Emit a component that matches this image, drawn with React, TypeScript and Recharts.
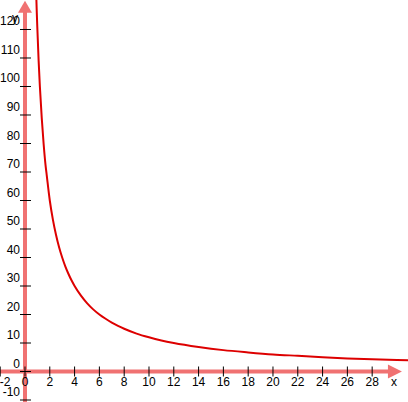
import { LineChart, Line, XAxis, YAxis, ReferenceLine, ReferenceDot } from "recharts";

// values
const xs = [0.88, 0.95, 1, 1.1, 1.2, 1.35, 1.5, 1.65, 1.75, 2, 2.25, 2.5, 2.75, 3, 3.25, 3.5, 3.75, 4, 4.5, 5, 5.5, 6, 6.5, 7, 7.5, 8, 9, 10, 11, 12, 14, 16, 18, 20, 22, 24, 26, 28, 30, 31];
const ys = [136, 126, 120, 109, 100, 89, 80, 72.7, 69, 60, 53.3, 48, 43.6, 40, 36.9, 34.3, 32, 30, 26.7, 24, 21.8, 20, 18.5, 17.15, 16, 15, 13.3, 12, 10.9, 10, 8.6, 7.5, 6.7, 6, 5.5, 5, 4.6, 4.3, 4, 3.9];

const xTicks = [-2, 0, 2, 4, 6, 8, 10, 12, 14, 16, 18, 20, 22, 24, 26, 28];
const yTicks = [-10, 0, 10, 20, 30, 40, 50, 60, 70, 80, 90, 100, 110, 120];

const xDomain = [-2.016, 30.89];
const yDomain = [-10.7, 130.35];

const AXIS = "#f07272";
const CURVE = "#dd0000";
const FONT = "'Liberation Sans', Arial, sans-serif";

const data = xs.map((x, i) => ({ x, y: ys[i] }));

const XTick = (props: any) => {
  const { cx, cy, label } = props;
  return (
    <g>
      <line x1={cx} x2={cx} y1={cy - 5} y2={cy + 5} stroke="#000" strokeWidth={1} />
      {/* keep the leftmost label from falling off the edge */}
      <text x={Math.max(cx, 5)} y={cy + 14} textAnchor="middle" fontSize={12} fontFamily={FONT} fill="#000">
        {label}
      </text>
    </g>
  );
};

const YTick = (props: any) => {
  const { cx, cy, label } = props;
  return (
    <g>
      <line x1={cx - 5} x2={cx + 6} y1={cy} y2={cy} stroke="#000" strokeWidth={1} />
      <text x={cx - 5} y={cy - 4} textAnchor="end" fontSize={12} fontFamily={FONT} fill="#000">
        {label}
      </text>
    </g>
  );
};

const XArrow = (props: any) => {
  const { cx, cy } = props;
  return (
    <g>
      <polygon points={`${cx},${cy} ${cx - 14},${cy - 7} ${cx - 14},${cy + 7}`} fill={AXIS} />
      <text x={cx - 8} y={cy + 14} textAnchor="middle" fontSize={12} fontFamily={FONT} fill="#000">x</text>
    </g>
  );
};

const YArrow = (props: any) => {
  const { cx, cy } = props;
  return (
    <g>
      <polygon points={`${cx},${cy} ${cx - 7},${cy + 12} ${cx + 7},${cy + 12}`} fill={AXIS} />
      <text x={cx - 10} y={cy + 21} textAnchor="middle" fontSize={12} fontFamily={FONT} fill="#000">y</text>
    </g>
  );
};

export default function App() {
  return (
    <div style={{ position: "absolute", left: 0, top: 0, width: 408, height: 402, background: "#fff" }}>
      <LineChart width={408} height={402} data={data} margin={{ top: 0, right: 0, bottom: 0, left: 0 }}>
        <XAxis dataKey="x" type="number" domain={xDomain} allowDataOverflow hide />
        <YAxis type="number" domain={yDomain} allowDataOverflow hide />
        {xTicks.map((t) => (
          <ReferenceDot key={`xt${t}`} x={t} y={0} ifOverflow="visible" shape={(p: any) => <XTick {...p} label={t} />} />
        ))}
        {yTicks.map((t) => (
          <ReferenceDot key={`yt${t}`} x={0} y={t} ifOverflow="visible" shape={(p: any) => <YTick {...p} label={t} />} />
        ))}
        <ReferenceLine segment={[{ x: -2.016, y: 0 }, { x: 29.8, y: 0 }]} stroke={AXIS} strokeWidth={4} ifOverflow="visible" />
        <ReferenceLine segment={[{ x: 0, y: -10.7 }, { x: 0, y: 127 }]} stroke={AXIS} strokeWidth={4} ifOverflow="visible" />
        <ReferenceDot x={30.4} y={0} ifOverflow="visible" shape={XArrow} />
        <ReferenceDot x={0} y={130.1} ifOverflow="visible" shape={YArrow} />
        <Line dataKey="y" type="monotone" stroke={CURVE} strokeWidth={2} dot={false} isAnimationActive={false} />
      </LineChart>
    </div>
  );
}
